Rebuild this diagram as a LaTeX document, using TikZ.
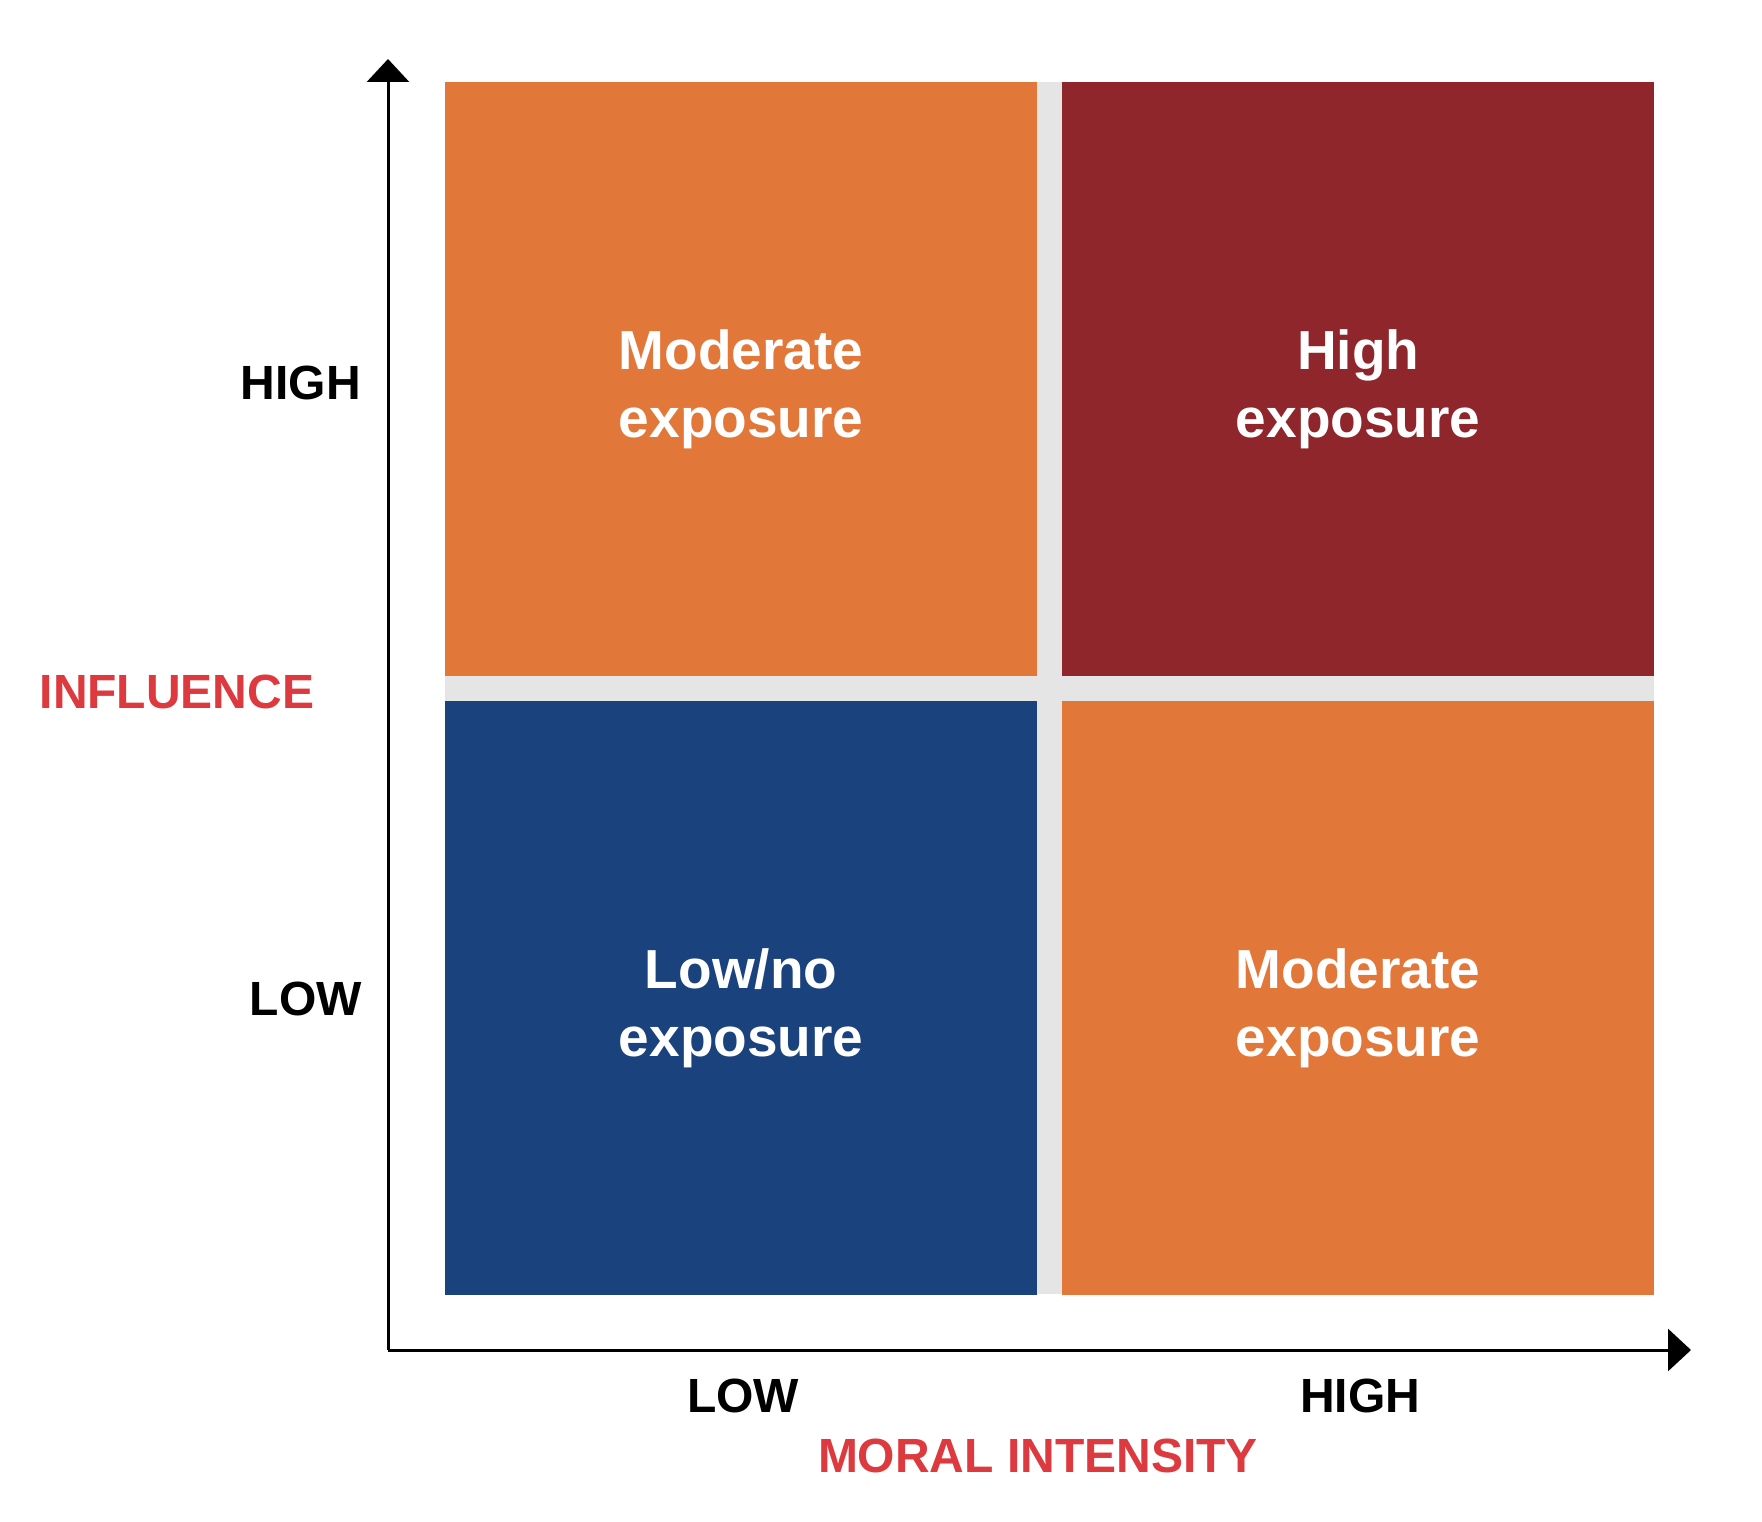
\documentclass[tikz,border=0pt]{standalone}
\usepackage{fontspec}
\setmainfont{Liberation Sans}
\usetikzlibrary{arrows.meta, positioning}
\definecolor{tangerine}{HTML}{E2773A}
\definecolor{wine}{HTML}{8E262B}
\definecolor{navy}{HTML}{1A427D}
\definecolor{gapgray}{HTML}{E5E5E5}
\definecolor{axisred}{HTML}{DC3A3E}
\tikzset{
  cell/.style={minimum width=592pt, minimum height=594pt, inner sep=0pt, anchor=north west},
  celltext/.style={inner sep=0pt, yshift=-10pt, text=white, align=center,
                   font=\fontsize{55}{68}\selectfont\bfseries},
  tick/.style={inner sep=0pt, font=\fontsize{48}{50}\selectfont\bfseries},
  title/.style={inner sep=0pt, text=axisred, font=\fontsize{48}{50}\selectfont\bfseries},
  ax/.style={-{Triangle[length=23pt, width=42pt]}, line width=3pt, black},
}

\begin{document}
\begin{tikzpicture}[x=1pt, y=-1pt]
    \useasboundingbox (0,0) rectangle (1762,1522);
    % grey cross behind the four cells
    \fill[gapgray] (445,82) rectangle (1654,1294);
    \node[cell, fill=tangerine] (tl) at (445,82) {};
    \node[cell, fill=wine] (tr) at (1062,82) {};
    \node[cell, fill=navy] (bl) at (445,701) {};
    \node[cell, fill=tangerine] (br) at (1062,701) {};
    \node[celltext] (tltext) at (tl) {Moderate\\exposure};
    \node[celltext] (trtext) at (tr) {High\\exposure};
    \node[celltext] (bltext) at (bl) {Low/no\\exposure};
    \node[celltext] (brtext) at (br) {Moderate\\exposure};
    % axes
    \coordinate (o) at (388,1350);
    \coordinate (ytip) at (388,59);
    \coordinate (xtip) at (1691,1350);
    \draw[ax] (o) -- (ytip);
    \draw[ax] (o) -- (xtip);
    % labels
    \node[tick, anchor=east] (yhigh) at (361,383) {HIGH};
    \node[tick, anchor=east] (ylow) at (362,999) {LOW};
    \node[title] (infl) at (177,692) {INFLUENCE};
    \node[tick] (xlow) at (743,1396) {LOW};
    \node[tick] (xhigh) at (1360,1396) {HIGH};
    \node[title] (moral) at (1038,1456) {MORAL INTENSITY};
  \end{tikzpicture}
\end{document}
